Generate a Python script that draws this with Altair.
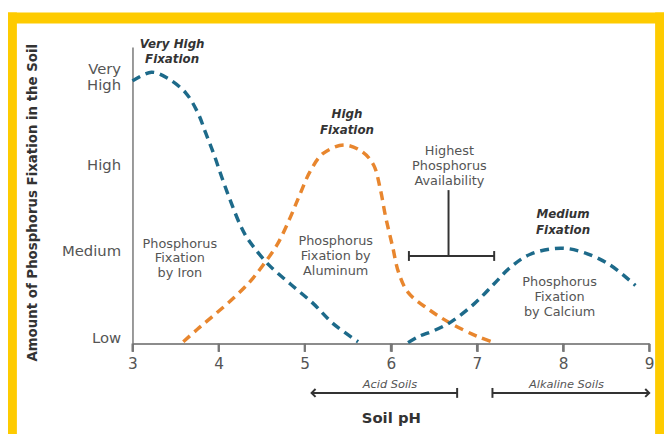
import altair as alt
import pandas as pd

# ---------------- data ----------------
iron_ph = [3.0, 3.22, 3.41, 3.62, 3.76, 3.85, 3.95, 4.04, 4.14, 4.25, 4.33, 4.41, 4.58, 4.83, 5.10,
           5.33, 5.62]
iron_fix = [2.96, 3.06, 2.99, 2.82, 2.59, 2.36, 2.10, 1.84, 1.57, 1.30, 1.15, 1.04, 0.84, 0.62, 0.39,
            0.16, -0.05]

alum_ph = [3.59, 3.76, 3.95, 4.18, 4.37, 4.52, 4.68, 4.83, 4.94, 5.06, 5.21, 5.46, 5.67, 5.80,
           5.88, 5.94, 6.02, 6.09, 6.20, 6.43, 6.70, 7.01, 7.20]
alum_fix = [-0.05, 0.10, 0.26, 0.46, 0.65, 0.84, 1.07, 1.38, 1.64, 1.91, 2.12, 2.22, 2.14, 1.99,
            1.70, 1.39, 1.05, 0.75, 0.52, 0.33, 0.16, 0.01, -0.06]

calc_ph = [6.20, 6.32, 6.48, 6.70, 6.97, 7.20, 7.39, 7.62, 7.97, 8.24, 8.54, 8.84]
calc_fix = [-0.06, 0.01, 0.07, 0.18, 0.39, 0.62, 0.81, 0.96, 1.03, 0.98, 0.84, 0.60]

series_names = ["Iron", "Aluminum", "Calcium"]

level_values = [0, 1, 2, 3]
level_labels = ["Low", "Medium", "High", "Very High"]
ph_ticks = [3, 4, 5, 6, 7, 8, 9]

# multi-line notes: position of the first line
note_texts = ["Phosphorus\nFixation\nby Iron", "Phosphorus\nFixation by\nAluminum",
              "Phosphorus\nFixation\nby Calcium", "Highest\nPhosphorus\nAvailability"]
note_ph = [3.55, 5.36, 7.96, 6.68]
note_lvl = [1.083, 1.109, 0.635, 2.147]

peak_texts = ["Very High\nFixation", "High\nFixation", "Medium\nFixation"]
peak_ph = [3.46, 5.49, 8.00]
peak_lvl = [3.39, 2.577, 1.425]

soil_texts = ["Acid Soils", "Alkaline Soils"]
soil_ph = [5.99, 8.04]
soil_lvl = [-0.553, -0.553]

# segments: T marker + soil range arrows
seg_x = [6.67, 6.21, 5.08, 7.18]
seg_x2 = [6.67, 7.20, 6.77, 9.0]
seg_y = [0.94, 0.94, -0.64, -0.64]
seg_y2 = [1.70, 0.94, -0.64, -0.64]
cap_x = [6.21, 7.20, 6.77, 7.18]
cap_y = [0.94, 0.94, -0.64, -0.64]
head_left_x, head_right_x, head_y = [5.08], [9.0], [-0.64]

# ---------------- styling ----------------
FONT = "DejaVu Sans"
BLUE = "#1d6a8a"
ORANGE = "#e8862e"
YELLOW = "#fecb00"
TXT = "#555555"
DARK = "#333333"

Y_MIN = -0.07
TICK_LEN = 0.095  # axis tick length in level units (about 8px)

curves = pd.DataFrame({
    "ph": iron_ph + alum_ph + calc_ph,
    "fix": iron_fix + alum_fix + calc_fix,
    "series": [series_names[0]] * len(iron_ph) + [series_names[1]] * len(alum_ph)
    + [series_names[2]] * len(calc_ph),
})

x_scale = alt.Scale(domain=[3, 9], nice=False, zero=False)
y_scale = alt.Scale(domain=[Y_MIN, 3.35], nice=False, zero=False)


def lab(s):
    parts = s.split(" ")
    if len(parts) == 1:
        return "'" + s + "'"
    return "[" + ",".join("'" + p + "'" for p in parts) + "]"


expr = lab(level_labels[-1])
for v, l in reversed(list(zip(level_values[:-1], level_labels[:-1]))):
    expr = f"datum.value == {v} ? {lab(l)} : ({expr})"

x_axis = alt.Axis(values=ph_ticks, format="d", ticks=True, tickSize=8, tickColor="#777",
                  tickWidth=2, domainColor="#666", domainWidth=1.5, labelFont=FONT,
                  labelFontSize=15.5, labelColor=TXT, labelPadding=5, labelFlush=False,
                  grid=False, title="Soil pH", titleFont=FONT, titleFontSize=15,
                  titleFontWeight="bold", titleColor=DARK, titleX=261.5, titleY=75,
                  titleAlign="center", titleBaseline="middle")
y_axis = alt.Axis(values=level_values, labelExpr=expr, ticks=False, domainColor="#777",
                  domainWidth=1.5, labelFont=FONT, labelFontSize=15, labelColor=TXT,
                  labelPadding=12, labelLineHeight=17, labelFlush=False, grid=False,
                  labelOffset={"condition": {"test": "datum.value == 3", "value": -9.5},
                               "value": 0},
                  title="Amount of Phosphorus Fixation in the Soil", titleFont=FONT,
                  titleFontSize=13.5, titleFontWeight="bold", titleColor=DARK,
                  titleX=-101, titleY=157, titleAlign="center", titleBaseline="middle")


def X(field):
    return alt.X(field, scale=x_scale, axis=x_axis)


def Y(field):
    return alt.Y(field, scale=y_scale, axis=y_axis)


lines = alt.Chart(curves).mark_line(strokeDash=[9, 6], strokeWidth=3.5,
                                    interpolate="catmull-rom").encode(
    x=X("ph:Q"),
    y=Y("fix:Q"),
    color=alt.Color("series:N", scale=alt.Scale(domain=series_names,
                                                range=[BLUE, ORANGE, BLUE]), legend=None),
    detail="series:N",
    order="ph:Q",
)

# explicit x ticks below the baseline
tick_df = pd.DataFrame({"ph": ph_ticks, "fix": [Y_MIN] * len(ph_ticks),
                        "y2": [Y_MIN - TICK_LEN] * len(ph_ticks)})
xticks = alt.Chart(tick_df).mark_rule(color="#777", strokeWidth=2).encode(
    x=X("ph:Q"), y=Y("fix:Q"), y2="y2:Q")

notes = alt.Chart(pd.DataFrame({"t": note_texts, "ph": note_ph, "fix": note_lvl})).mark_text(
    font=FONT, fontSize=13, color=TXT, lineBreak="\n", lineHeight=15, align="center",
    baseline="middle").encode(x=X("ph:Q"), y=Y("fix:Q"), text="t:N")

peaks = alt.Chart(pd.DataFrame({"t": peak_texts, "ph": peak_ph, "fix": peak_lvl})).mark_text(
    font=FONT, fontSize=12, fontWeight="bold", fontStyle="italic", color=DARK, lineBreak="\n",
    lineHeight=16, align="center", baseline="middle").encode(
    x=X("ph:Q"), y=Y("fix:Q"), text="t:N")

soils = alt.Chart(pd.DataFrame({"t": soil_texts, "ph": soil_ph, "fix": soil_lvl})).mark_text(
    font=FONT, fontSize=11.5, fontStyle="italic", color=TXT, align="center",
    baseline="middle").encode(x=X("ph:Q"), y=Y("fix:Q"), text="t:N")

segs = alt.Chart(pd.DataFrame({"ph": seg_x, "x2": seg_x2, "fix": seg_y, "y2": seg_y2})).mark_rule(
    color=DARK, strokeWidth=2).encode(x=X("ph:Q"), x2="x2:Q", y=Y("fix:Q"), y2="y2:Q")

caps = alt.Chart(pd.DataFrame({"ph": cap_x, "fix": cap_y})).mark_point(
    shape="M0,-1L0,1", size=100, filled=False, color=DARK, strokeWidth=2, opacity=1).encode(
    x=X("ph:Q"), y=Y("fix:Q"))

head_l = alt.Chart(pd.DataFrame({"ph": head_left_x, "fix": head_y})).mark_point(
    shape="M1,-1L0,0L1,1", size=64, filled=False, color=DARK, strokeWidth=2, opacity=1).encode(
    x=X("ph:Q"), y=Y("fix:Q"))
head_r = alt.Chart(pd.DataFrame({"ph": head_right_x, "fix": head_y})).mark_point(
    shape="M-1,-1L0,0L-1,1", size=64, filled=False, color=DARK, strokeWidth=2, opacity=1).encode(
    x=X("ph:Q"), y=Y("fix:Q"))

# decorative yellow frame (left, top, right strips), in pixels relative to the plot area
dummy = pd.DataFrame({"a": [0]})
frame_left = alt.Chart(dummy).mark_rect(color=YELLOW).encode(
    x=alt.value(-127), x2=alt.value(-117), y=alt.value(-35), y2=alt.value(400))
frame_top = alt.Chart(dummy).mark_rect(color=YELLOW).encode(
    x=alt.value(-127), x2=alt.value(545), y=alt.value(-35), y2=alt.value(-24))
frame_right = alt.Chart(dummy).mark_rect(color=YELLOW).encode(
    x=alt.value(529), x2=alt.value(545), y=alt.value(-35), y2=alt.value(400))

chart = alt.layer(lines, xticks, notes, peaks, soils, segs, caps, head_l, head_r,
                  frame_left, frame_top, frame_right).properties(
    width=523, height=300, autosize="none",
    padding={"left": 126, "top": 37, "right": 15, "bottom": 89},
    background="white",
).configure_view(strokeWidth=0)

chart.save("out.html", embed_options={"renderer": "svg", "actions": False})
